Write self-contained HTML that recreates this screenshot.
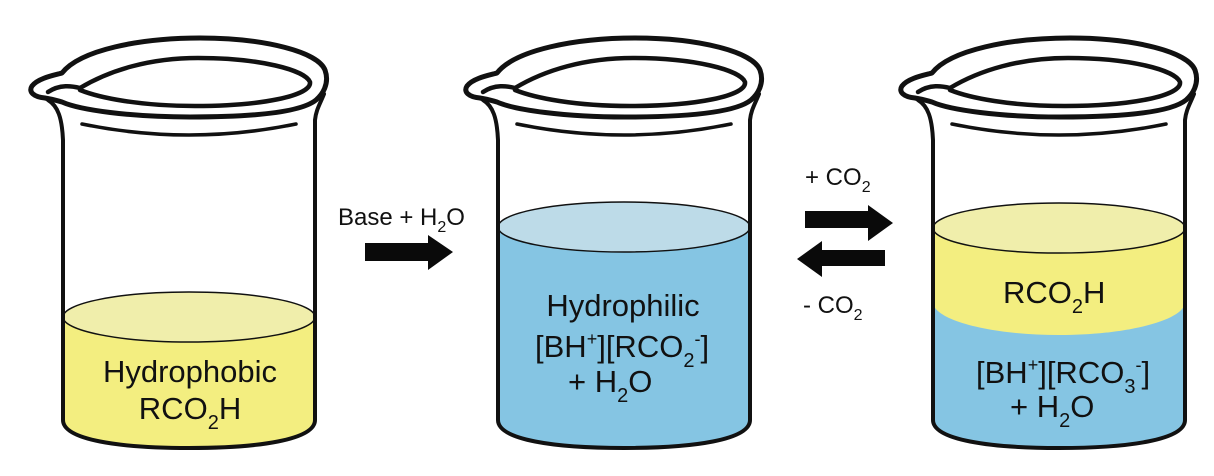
<!DOCTYPE html>
<html><head><meta charset="utf-8"><style>
body{margin:0;background:#fff;}
svg{display:block;}
text{font-family:"Liberation Sans",Arial,sans-serif;fill:#111;}
</style></head><body>
<svg width="1214" height="476" viewBox="0 0 1214 476" xmlns="http://www.w3.org/2000/svg">
<defs>
<g id="beaker" fill="none" stroke="#111" stroke-linecap="round" stroke-linejoin="round">
  <path d="M45,98 C34,97 28,92 32,86 C38,78 55,75 62,73 C80,50 140,38 200,38 C265,38 318,52 325,70 C330,84 322,95 316,100 C300,113 250,117 190,117 C130,117 80,110 62,102 C56,100 50,99 45,98 Z" stroke-width="5"/>
  <path d="M48,92 C60,84 72,86 80,88 C110,70 150,58 198,58 C260,58 305,70 310,82 C312,96 260,106 195,106 C140,106 100,98 80,90" stroke-width="4.5"/>
  <path d="M48,100 C58,106 62,118 63,140 L63,420 C63,440 120,448 189,448 C258,448 315,440 315,420 L315,120 C316,110 320,104 324,94" stroke-width="4"/>
  <path d="M82,124 Q189,146 296,124" stroke-width="3.5"/>
</g>
</defs>

<path d="M63,317 L63,420 C63,440 120,448 189,448 C258,448 315,440 315,420 L315,317 Z" fill="#f3ee80"/>
<ellipse cx="189" cy="317" rx="126" ry="25" fill="#f0eeab" stroke="#111" stroke-width="1.5"/>
<use href="#beaker"/>
<text x="190" y="382" font-size="31" text-anchor="middle">Hydrophobic</text>
<text x="190" y="419" font-size="31" text-anchor="middle">RCO<tspan font-size="20" dy="10">2</tspan><tspan dy="-10">H</tspan></text>

<g transform="translate(435,0)">
<path d="M63,227 L63,420 C63,440 120,448 189,448 C258,448 315,440 315,420 L315,227 Z" fill="#85c5e3"/>
<ellipse cx="189" cy="227" rx="126" ry="25" fill="#bddbe8" stroke="#111" stroke-width="1.5"/>
<use href="#beaker"/>
</g>
<text x="623" y="316" font-size="31" text-anchor="middle">Hydrophilic</text>
<text x="535" y="357" font-size="31">[BH<tspan font-size="18" dy="-12">+</tspan><tspan dy="12">][RCO</tspan><tspan font-size="20" dy="10">2</tspan><tspan font-size="18" dy="-22">-</tspan><tspan dy="12">]</tspan></text>
<text x="568" y="392" font-size="31">+ H<tspan font-size="20" dy="10">2</tspan><tspan dy="-10">O</tspan></text>

<g transform="translate(870,0)">
<path d="M63,228 L63,420 C63,440 120,448 189,448 C258,448 315,440 315,420 L315,228 Z" fill="#85c5e3"/>
<path d="M63,228 L63,302 C63,320 120,335 189,335 C258,335 315,320 315,302 L315,228 Z" fill="#f3ee80"/>
<ellipse cx="189" cy="228" rx="126" ry="25" fill="#f0eeab" stroke="#111" stroke-width="1.5"/>
<use href="#beaker"/>
</g>
<text x="1003" y="303" font-size="31">RCO<tspan font-size="20" dy="10">2</tspan><tspan dy="-10">H</tspan></text>
<text x="976" y="383" font-size="31">[BH<tspan font-size="18" dy="-12">+</tspan><tspan dy="12">][RCO</tspan><tspan font-size="20" dy="10">3</tspan><tspan font-size="18" dy="-22">-</tspan><tspan dy="12">]</tspan></text>
<text x="1010" y="417" font-size="31">+ H<tspan font-size="20" dy="10">2</tspan><tspan dy="-10">O</tspan></text>

<text x="338" y="225" font-size="24">Base + H<tspan font-size="16" dy="7">2</tspan><tspan dy="-7">O</tspan></text>
<path d="M365,243 L428,243 L428,235 L453,252 L428,270 L428,261 L365,261 Z" fill="#0a0a0a"/>

<text x="805" y="185" font-size="24">+ CO<tspan font-size="16" dy="7">2</tspan></text>
<path d="M805,211 L868,211 L868,205 L893,223 L868,241 L868,228 L805,228 Z" fill="#0a0a0a"/>
<path d="M885,250 L822,250 L822,241 L797,259 L822,277 L822,266 L885,266 Z" fill="#0a0a0a"/>
<text x="803" y="313" font-size="24">-  CO<tspan font-size="16" dy="7">2</tspan></text>
</svg>
</body></html>
